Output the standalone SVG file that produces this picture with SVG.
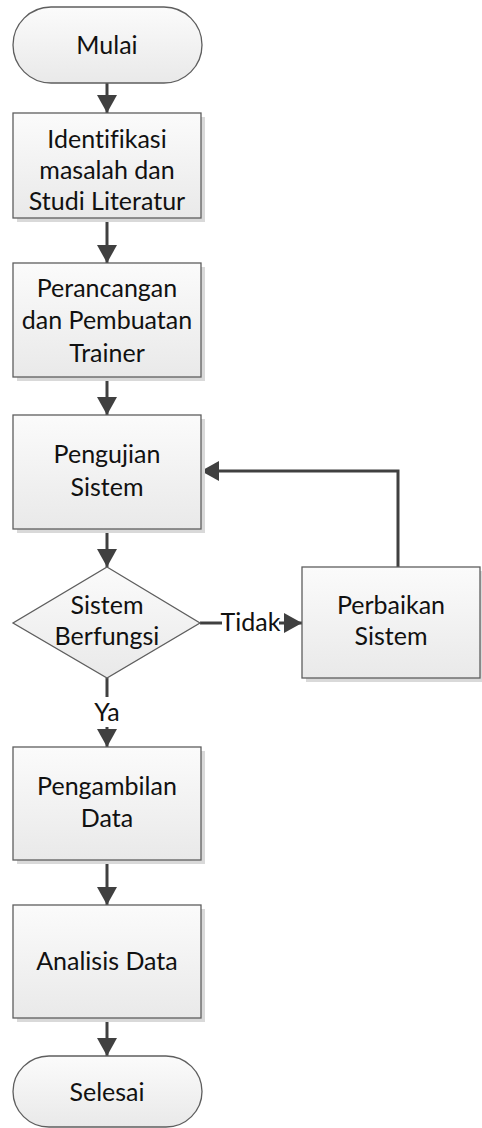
<svg xmlns="http://www.w3.org/2000/svg" width="482" height="1128" viewBox="0 0 482 1128">
<defs>
<linearGradient id="g" x1="0" y1="0" x2="0" y2="1">
<stop offset="0" stop-color="#fbfbfb"/>
<stop offset="1" stop-color="#e9e9e9"/>
</linearGradient>
<marker id="ah" markerUnits="userSpaceOnUse" markerWidth="20" markerHeight="20" viewBox="0 0 18 20" refX="18" refY="10" orient="auto">
<path d="M0,0 L18,10 L0,20 Z" fill="#404040"/>
</marker>
<style>
.sh{fill:#d9d9d9;}
.n{fill:url(#g);stroke:#5e5e5e;stroke-width:1.3;}
.t{font-family:Lato,"Liberation Sans",sans-serif;font-size:25px;fill:#111;text-anchor:middle;font-variant-ligatures:none;font-feature-settings:"liga" 0;}
.c{fill:none;stroke:#404040;stroke-width:3;}
</style>
</defs>
<rect width="482" height="1128" fill="#fff"/>
<g id="connectors">
<line class="c" x1="107" y1="83" x2="107" y2="113" marker-end="url(#ah)"/>
<line class="c" x1="107" y1="218" x2="107" y2="263" marker-end="url(#ah)"/>
<line class="c" x1="107" y1="377" x2="107" y2="415" marker-end="url(#ah)"/>
<line class="c" x1="107" y1="529" x2="107" y2="567" marker-end="url(#ah)"/>
<polyline class="c" points="398,567 398,471 201,471" marker-end="url(#ah)"/>
<line class="c" x1="200" y1="623" x2="222" y2="623"/>
<line class="c" x1="279" y1="623" x2="302" y2="623" marker-end="url(#ah)"/>
<text class="t" x="250.5" y="631">Tidak</text>
<line class="c" x1="107" y1="678" x2="107" y2="697"/>
<line class="c" x1="107" y1="727" x2="107" y2="747" marker-end="url(#ah)"/>
<text class="t" x="107" y="721">Ya</text>
<line class="c" x1="107" y1="860" x2="107" y2="905" marker-end="url(#ah)"/>
<line class="c" x1="107" y1="1018" x2="107" y2="1056" marker-end="url(#ah)"/>
</g>
<g id="mulai">
<rect class="n" x="13" y="7" width="189" height="76" rx="38" ry="38"/>
<text class="t" x="107" y="54">Mulai</text>
</g>
<g id="identifikasi">
<rect class="sh" x="17" y="117" width="188" height="105"/>
<rect class="n" x="13" y="113" width="188" height="105"/>
<text class="t" x="107" y="148">Identifikasi</text>
<text class="t" x="107" y="179">masalah dan</text>
<text class="t" x="107" y="210">Studi Literatur</text>
</g>
<g id="perancangan">
<rect class="sh" x="17" y="267" width="188" height="114"/>
<rect class="n" x="13" y="263" width="188" height="114"/>
<text class="t" x="107" y="297">Perancangan</text>
<text class="t" x="107" y="329">dan Pembuatan</text>
<text class="t" x="107" y="362">Trainer</text>
</g>
<g id="pengujian">
<rect class="sh" x="17" y="419" width="188" height="114"/>
<rect class="n" x="13" y="415" width="188" height="114"/>
<text class="t" x="107" y="463">Pengujian</text>
<text class="t" x="107" y="496">Sistem</text>
</g>
<g id="decision">
<polygon class="n" points="107,567 200,623 107,678 13,623"/>
<text class="t" x="107" y="614">Sistem</text>
<text class="t" x="107" y="645">Berfungsi</text>
</g>
<g id="perbaikan">
<rect class="sh" x="306" y="571" width="176" height="111"/>
<rect class="n" x="302" y="567" width="178" height="111"/>
<text class="t" x="391" y="614">Perbaikan</text>
<text class="t" x="391" y="645">Sistem</text>
</g>
<g id="pengambilan">
<rect class="sh" x="17" y="751" width="188" height="113"/>
<rect class="n" x="13" y="747" width="188" height="113"/>
<text class="t" x="107" y="795">Pengambilan</text>
<text class="t" x="107" y="827">Data</text>
</g>
<g id="analisis">
<rect class="sh" x="17" y="909" width="188" height="113"/>
<rect class="n" x="13" y="905" width="188" height="113"/>
<text class="t" x="107" y="970">Analisis Data</text>
</g>
<g id="selesai">
<rect class="n" x="13" y="1056" width="189" height="71" rx="36" ry="36"/>
<text class="t" x="107" y="1101">Selesai</text>
</g>
</svg>
